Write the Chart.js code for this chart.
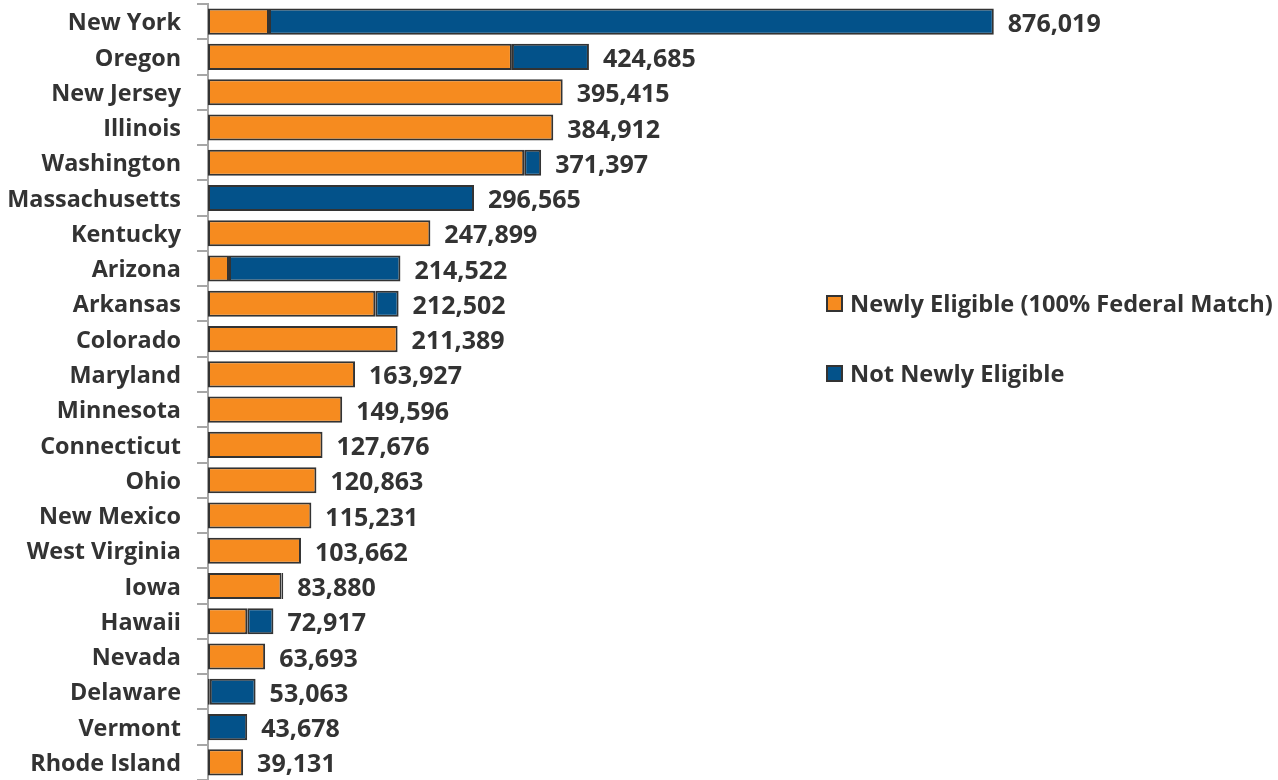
<!DOCTYPE html>
<html><head><meta charset="utf-8">
<script src="https://cdn.jsdelivr.net/npm/chart.js@4/dist/chart.umd.min.js"></script>
<style>
html,body{margin:0;padding:0;background:#fff;}
#wrap{position:relative;width:1278px;height:780px;}
canvas{display:block}
#legend{position:absolute;left:826px;top:0;font:bold 23.6px "Open Sans";color:#333;}
.item{position:absolute;left:0;display:flex;align-items:center;white-space:nowrap;height:30px;}
.sw{width:13px;height:13px;border:2px solid #333;margin-right:7px;flex:none}
</style>
</head><body>
<div id="wrap"><canvas id="c" width="1278" height="780"></canvas>
<div id="legend"></div></div>
<script>
const states = ['New York','Oregon','New Jersey','Illinois','Washington','Massachusetts','Kentucky','Arizona','Arkansas','Colorado','Maryland','Minnesota','Connecticut','Ohio','New Mexico','West Virginia','Iowa','Hawaii','Nevada','Delaware','Vermont','Rhode Island'];
const newlyEligible = [68000,338800,395415,384912,352500,0,247899,23400,186500,211389,163927,149596,127676,120863,115231,103662,82000,43800,63693,2000,0,39131];
const notNewlyEligible = [808019,85885,0,0,18897,296565,0,191122,26002,0,0,0,0,0,0,0,1880,29117,0,51063,43678,0];
const seriesNames = ['Newly Eligible (100% Federal Match)','Not Newly Eligible'];
const colors = ['#F68B1F','#03528A'];
const totals = states.map((s,i)=>newlyEligible[i]+notNewlyEligible[i]);
const FONT = '"Open Sans"';

const lg = document.getElementById('legend');
seriesNames.forEach((n,i)=>{
  const d=document.createElement('div');d.className='item';d.style.top=(288+i*70)+'px';
  const sw=document.createElement('span');sw.className='sw';sw.style.background=colors[i];
  const t=document.createElement('span');t.textContent=n;
  d.appendChild(sw);d.appendChild(t);lg.appendChild(d);
});

const totalLabels = {
  id:'totalLabels',
  afterDatasetsDraw(chart){
    const ctx=chart.ctx, xs=chart.scales.x, ys=chart.scales.y;
    ctx.save();
    ctx.font='bold 25px '+FONT;ctx.fillStyle='#333';ctx.textBaseline='middle';ctx.textAlign='left';
    totals.forEach((t,i)=>{
      ctx.fillText(t.toLocaleString('en-US'), xs.getPixelForValue(t)+14, ys.getPixelForValue(i)+3);
    });
    ctx.restore();
  }
};

new Chart(document.getElementById('c'),{
  type:'bar',
  data:{labels:states,datasets:[
    {label:seriesNames[0],data:newlyEligible.map(v=>v||null),backgroundColor:colors[0],borderColor:'#333',borderWidth:2,borderSkipped:false},
    {label:seriesNames[1],data:notNewlyEligible.map(v=>v||null),backgroundColor:colors[1],borderColor:'#333',borderWidth:2,borderSkipped:false}
  ]},
  options:{
    indexAxis:'y',responsive:false,animation:false,
    layout:{padding:{top:4,right:173,bottom:0,left:0}},
    categoryPercentage:1,barPercentage:0.74,
    plugins:{legend:{display:false},tooltip:{enabled:false}},
    scales:{
      x:{stacked:true,display:false,min:0,max:1000000},
      y:{stacked:true,
        afterFit(s){s.width=208;s.paddingTop=0;s.paddingBottom=0;},
        border:{display:true,color:'#a6a6a6',width:2},
        grid:{display:true,drawOnChartArea:false,drawTicks:true,tickLength:11,color:'#a6a6a6',lineWidth:2,offset:true},
        ticks:{padding:16,labelOffset:2,color:'#333',font:{family:FONT,weight:'bold',size:23.4}}
      }
    }
  },
  plugins:[totalLabels]
});
</script>
</body></html>
